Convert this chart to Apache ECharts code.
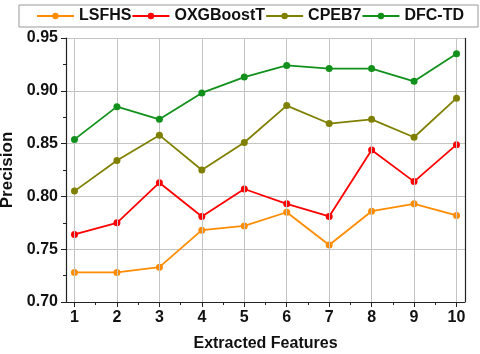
<!DOCTYPE html>
<html><head><meta charset="utf-8">
<script src="https://cdn.jsdelivr.net/npm/echarts@6/dist/echarts.min.js"></script>
<style>html,body{margin:0;padding:0;background:#fff}#c{width:480px;height:354px}</style>
</head><body><div id="c"></div>
<script>
const features = [1,2,3,4,5,6,7,8,9,10];
const minorX = [1.5,2.5,3.5,4.5,5.5,6.5,7.5,8.5,9.5];
const yTicks = [0.70,0.75,0.80,0.85,0.90,0.95];
const LSFHS = [0.728,0.728,0.733,0.768,0.772,0.785,0.754,0.786,0.793,0.782];
const OXGBoostT = [0.764,0.775,0.813,0.781,0.807,0.793,0.781,0.844,0.814,0.849];
const CPEB7 = [0.805,0.834,0.858,0.825,0.851,0.886,0.869,0.873,0.856,0.893];
const DFCTD = [0.854,0.885,0.873,0.898,0.913,0.924,0.921,0.921,0.909,0.935];

const names = ['LSFHS','OXGBoostT','CPEB7','DFC-TD'];
const colors = ['#ff8c00','#ff0000','#808000','#11911b'];
const sets = [LSFHS, OXGBoostT, CPEB7, DFCTD];
const font = '"Liberation Sans", Arial, sans-serif';

const chart = echarts.init(document.getElementById('c'), null, {renderer:'canvas'});
chart.setOption({
  animation:false,
  legend:{
    top:5, left:19,
    padding:[3,14,3,17],
    borderColor:'#999', borderWidth:1,
    itemGap:0, itemWidth:37, itemHeight:8,
    textStyle:{fontFamily:font, fontWeight:'bold', fontSize:16, color:'#111'},
    data:names
  },
  grid:{left:66, right:15, top:38, bottom:52, outerBoundsMode:'none', containLabel:false},
  xAxis:[{
    type:'value', min:0.8, max:10.2,
    name:'Extracted Features', nameLocation:'middle', nameGap:34, nameMoveOverlap:false,
    nameTextStyle:{fontFamily:font, fontWeight:'bold', fontSize:16, color:'#111'},
    axisLine:{show:true, onZero:false, lineStyle:{color:'#222', width:1.2}},
    axisTick:{show:true, inside:false, length:5, customValues:features, lineStyle:{color:'#222'}},
    axisLabel:{customValues:features, fontFamily:font, fontWeight:'bold', fontSize:16, color:'#111', margin:8},
    splitLine:{show:false}
  },{
    type:'value', min:0.8, max:10.2, position:'bottom',
    axisLine:{show:false, onZero:false},
    axisTick:{show:true, inside:false, length:3, customValues:minorX, lineStyle:{color:'#222'}},
    axisLabel:{show:false, customValues:minorX},
    splitLine:{show:false}
  }],
  yAxis:{
    type:'value', min:0.70, max:0.95, interval:0.05,
    name:'Precision', nameLocation:'middle', nameGap:50, nameMoveOverlap:false,
    nameTextStyle:{fontFamily:font, fontWeight:'bold', fontSize:17, color:'#111'},
    axisLine:{show:true, lineStyle:{color:'#222', width:1.2}},
    axisTick:{show:true, inside:false, length:5, lineStyle:{color:'#222'}},
    minorTick:{show:true, splitNumber:2, length:3, lineStyle:{color:'#222'}},
    axisLabel:{formatter:v=>v.toFixed(2), fontFamily:font, fontWeight:'bold', fontSize:16, color:'#111', margin:8},
    splitLine:{show:true, lineStyle:{color:'#c4c4c4', width:1}}
  },
  series: sets.map((d,i)=>({
    name:names[i], type:'line',
    data: features.map((f,j)=>[f,d[j]]),
    symbol:'circle', symbolSize:7,
    lineStyle:{color:colors[i], width:1.8},
    itemStyle:{color:colors[i]},
    z:3+i
  })).concat([{
    type:'line', data:[], z:1,
    markLine:{silent:true, symbol:'none', label:{show:false},
      lineStyle:{color:'#c4c4c4', type:'solid', width:1},
      data: features.map(f=>({xAxis:f}))}
  },{
    type:'line', data:[], z:2,
    markLine:{silent:true, symbol:'none', label:{show:false},
      lineStyle:{color:'#222', type:'solid', width:1.2},
      data:[[{coord:[10.2,0.70]},{coord:[10.2,0.95]}]]}
  }])
});
</script></body></html>
